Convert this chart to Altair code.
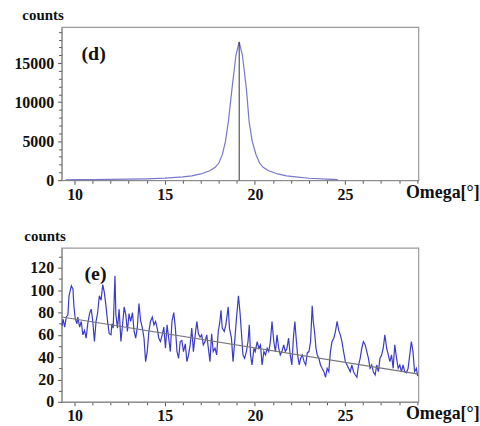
import altair as alt
import pandas as pd

# ---------------- panel (d): rocking curve ----------------
omega_d = [9.5, 10.0, 11.0, 12.0, 13.0, 14.0, 15.0, 16.0, 16.5, 17.0, 17.5, 17.8, 18.0,
           18.2, 18.37, 18.53, 18.73, 18.95, 19.13, 19.31, 19.53, 19.68, 19.85, 20.06,
           20.26, 20.46, 20.76, 21.26, 21.76, 22.26, 23.0, 24.0, 24.6]
counts_d = [60, 70, 80, 100, 130, 180, 260, 420, 560, 800, 1200, 1650, 2200,
            3300, 5000, 7500, 11700, 16000, 17700, 16000, 11700, 7500, 5000, 3300,
            2200, 1650, 1200, 800, 560, 420, 250, 130, 80]
peak_omega = [19.13]
peak_counts = [17700]

# ---------------- panel (e): noisy scan ----------------
omega_e1 = [9.30, 9.36, 9.45, 9.54, 9.63, 9.69, 9.82, 9.91, 9.96, 10.04, 10.13, 10.18, 10.28,
            10.37, 10.46, 10.55, 10.64, 10.73, 10.83, 10.92, 11.01, 11.10, 11.19, 11.28, 11.37,
            11.47, 11.56, 11.65, 11.74, 11.83, 11.92, 12.02, 12.07, 12.14, 12.24, 12.29, 12.38,
            12.47, 12.57, 12.66, 12.75, 12.84, 12.93, 13.02, 13.11, 13.21, 13.30, 13.39, 13.48,
            13.57, 13.66, 13.76, 13.85, 13.94, 14.03, 14.12, 14.21, 14.31, 14.40, 14.49, 14.58,
            14.67, 14.76, 14.86, 14.95, 15.04, 15.13, 15.22, 15.31, 15.40, 15.50, 15.59, 15.68,
            15.77, 15.86]
counts_e1 = [68, 74, 67, 76, 78, 95, 104, 101, 86, 74, 70, 76, 67,
             72, 60, 64, 57, 70, 79, 83, 72, 54, 72, 80, 95,
             91, 105, 98, 86, 72, 61, 60, 70, 66, 113, 78, 66,
             83, 54, 69, 85, 78, 63, 79, 72, 80, 63, 57, 67,
             88, 73, 66, 57, 36, 45, 63, 72, 76, 69, 72, 66,
             57, 54, 60, 67, 48, 69, 57, 45, 72, 80, 66, 45,
             39, 54]
omega_e2 = [15.95, 16.04, 16.14, 16.23, 16.32, 16.41, 16.50, 16.59, 16.69, 16.78, 16.87, 16.96,
            17.05, 17.14, 17.24, 17.33, 17.42, 17.51, 17.60, 17.69, 17.79, 17.88, 17.97, 18.06,
            18.12, 18.19, 18.30, 18.39, 18.52, 18.59, 18.70, 18.79, 18.88, 18.98, 19.09, 19.18,
            19.25, 19.34, 19.43, 19.53, 19.62, 19.69, 19.76, 19.84, 19.95, 20.02, 20.13, 20.22,
            20.31, 20.40, 20.50, 20.59, 20.68, 20.77, 20.86, 20.95, 21.05, 21.14, 21.23, 21.32,
            21.41, 21.50, 21.60, 21.69, 21.78, 21.87, 21.96, 22.05, 22.15, 22.22, 22.29, 22.37,
            22.46]
counts_e2 = [55, 45, 52, 36, 42, 51, 66, 45, 60, 72, 61, 58,
             60, 51, 54, 60, 48, 36, 61, 45, 48, 42, 63, 72,
             82, 66, 63, 69, 85, 66, 57, 36, 54, 75, 95, 79,
             63, 42, 39, 45, 54, 69, 42, 33, 48, 45, 54, 48,
             51, 33, 45, 42, 48, 45, 54, 72, 54, 45, 60, 48,
             42, 45, 51, 45, 48, 57, 42, 33, 60, 72, 57, 42,
             33]
omega_e3 = [22.54, 22.63, 22.73, 22.82, 22.91, 23.00, 23.09, 23.18, 23.24, 23.31, 23.39, 23.46,
            23.55, 23.64, 23.73, 23.83, 23.92, 24.01, 24.10, 24.19, 24.28, 24.38, 24.47, 24.56,
            24.65, 24.74, 24.83, 24.92, 25.02, 25.11, 25.20, 25.29, 25.38, 25.47, 25.57, 25.66,
            25.75, 25.84, 25.93, 26.02, 26.12, 26.21, 26.30, 26.39, 26.48, 26.57, 26.67, 26.76,
            26.85, 26.94, 27.03, 27.12, 27.21, 27.31, 27.40, 27.49, 27.58, 27.67, 27.76, 27.86,
            27.95, 28.04, 28.13, 28.22, 28.31, 28.41, 28.50, 28.59, 28.68, 28.77, 28.86, 28.96,
            29.03]
counts_e3 = [39, 42, 36, 33, 44, 45, 54, 86, 72, 63, 48, 42,
             39, 33, 30, 27, 22, 30, 27, 45, 54, 57, 63, 72,
             64, 60, 54, 45, 36, 33, 30, 27, 33, 27, 24, 22,
             33, 39, 48, 54, 51, 45, 39, 30, 33, 27, 24, 33,
             27, 39, 42, 48, 60, 48, 42, 36, 42, 30, 51, 39,
             30, 33, 27, 33, 27, 26, 30, 42, 54, 45, 27, 30,
             23]
fit_omega = [9.3, 29.0]
fit_counts = [76, 25]

# ticks
x_ticks = list(range(10, 30))
yd_ticks = list(range(0, 20000, 1000))
ye_ticks = list(range(0, 140, 10))

XDOM = [9.28, 29.07]
W = 359
FONT = "Liberation Serif"

df_d = pd.DataFrame({"omega": omega_d, "counts": counts_d})
df_peak = pd.DataFrame({"omega": peak_omega, "counts": peak_counts})
df_e = pd.DataFrame({"omega": omega_e1 + omega_e2 + omega_e3,
                     "counts": counts_e1 + counts_e2 + counts_e3})
df_fit = pd.DataFrame({"omega": fit_omega, "counts": fit_counts})


def major(step):
    return f"datum.value % {step} === 0"


def x_axis():
    return alt.Axis(values=x_ticks, tickCount=500, format="d",
                    labelExpr=f"{major(5)} ? datum.label : ''",
                    labelFontSize={"condition": {"test": major(5), "value": 16}, "value": 0},
                    tickSize={"condition": {"test": major(5), "value": 4}, "value": 3},
                    title="Omega[°]", titleX=346, titleY=12, titleAlign="left",
                    titleBaseline="middle", titleAngle=0, titleFontSize=18,
                    titleFont=FONT, titleFontWeight="bold", titleColor="#111",
                    labelFont=FONT, labelFontWeight="bold",
                    labelColor="#111", labelPadding=2,
                    tickColor="#555", domainColor="#888", grid=False,
                    labelFlush=False, labelOverlap=False)


def y_axis(vals, step, tx, ty):
    return alt.Axis(values=vals, tickCount=500, format="d",
                    labelExpr=f"{major(step)} ? datum.label : ''",
                    labelFontSize={"condition": {"test": major(step), "value": 16}, "value": 0},
                    tickSize={"condition": {"test": major(step), "value": 4}, "value": 3},
                    title="counts", titleX=tx, titleY=ty, titleAlign="left",
                    titleBaseline="alphabetic", titleAngle=0, titleFontSize=15,
                    titleFont=FONT, titleFontWeight="bold", titleColor="#111",
                    labelFont=FONT, labelFontWeight="bold",
                    labelColor="#111", labelPadding=4,
                    tickColor="#555", domainColor="#888", grid=False,
                    labelOverlap=False, labelBaseline="middle")


xs = alt.Scale(domain=XDOM, nice=False, zero=False)

# top panel
yd = alt.Scale(domain=[0, 19600], nice=False)
curve_d = alt.Chart(df_d).mark_line(color="#7878cc", strokeWidth=1.2).encode(
    x=alt.X("omega:Q", scale=xs, axis=x_axis()),
    y=alt.Y("counts:Q", scale=yd, axis=y_axis(yd_ticks, 5000, -40, -8)),
)
peak_rule = alt.Chart(df_peak).mark_rule(color="#333", strokeWidth=1).encode(
    x="omega:Q", y=alt.Y("counts:Q"), y2=alt.datum(0)
)
lab_d = alt.Chart(pd.DataFrame({"t": ["(d)"]})).mark_text(
    font=FONT, fontWeight="bold", fontSize=20, align="left", baseline="middle", color="#111"
).encode(text="t:N", x=alt.value(20), y=alt.value(27))
top = alt.layer(curve_d, peak_rule, lab_d).properties(width=W, height=154)

# bottom panel
ye = alt.Scale(domain=[0, 138], nice=False)
curve_e = alt.Chart(df_e).mark_line(color="#3a3ac8", strokeWidth=1.2).encode(
    x=alt.X("omega:Q", scale=xs, axis=x_axis()),
    y=alt.Y("counts:Q", scale=ye, axis=y_axis(ye_ticks, 20, -38, -7)),
)
fit_line = alt.Chart(df_fit).mark_line(color="#777", strokeWidth=1.2).encode(
    x="omega:Q", y="counts:Q"
)
lab_e = alt.Chart(pd.DataFrame({"t": ["(e)"]})).mark_text(
    font=FONT, fontWeight="bold", fontSize=20, align="left", baseline="middle", color="#111"
).encode(text="t:N", x=alt.value(23), y=alt.value(26))
bottom = alt.layer(curve_e, fit_line, lab_e).properties(width=W, height=155)

chart = alt.vconcat(top, bottom, spacing=68, bounds="flush").properties(
    padding={"left": 13, "top": 5, "right": 0, "bottom": 0},
).configure_view(stroke="#9a9a9a", strokeWidth=1.2)

chart.save("out.html", embed_options={"renderer": "svg", "actions": False})
